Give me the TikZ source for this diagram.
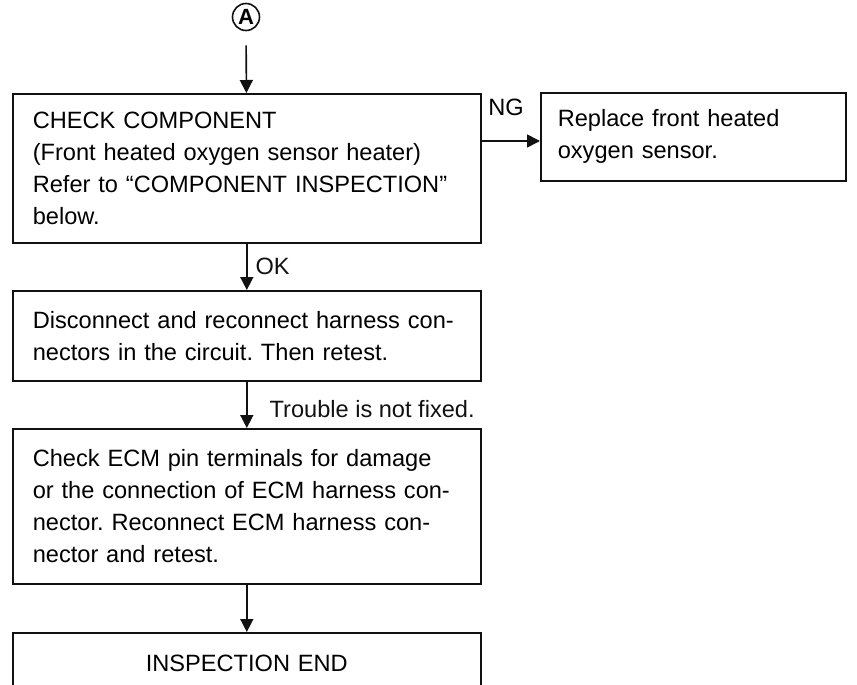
\documentclass[tikz,border=0pt]{standalone}
\usepackage{fontspec}
\setmainfont{Liberation Sans}
\usepackage{tikz}
\usetikzlibrary{positioning, arrows.meta}
\definecolor{fInk}{HTML}{111111}
\frenchspacing

\begin{document}
\begin{tikzpicture}[x=0.5pt, y=-0.5pt, >={Triangle[length=6.5pt,width=6.5pt]},
          stepbox/.style={draw=fInk, line width=0.8pt, anchor=north west, align=left,
            inner xsep=10pt, font=\fontsize{11.8}{16}\selectfont},
          flow/.style={->, line width=0.8pt, fInk},
          lbl/.style={font=\fontsize{11.8}{14}\selectfont, inner sep=1pt}]
        \clip (0,0) rectangle (857,685);
        \node[draw=fInk, circle, line width=0.8pt, minimum size=13.5pt, inner sep=0pt,
          font=\fontsize{11}{11}\selectfont\bfseries] (conA) at (246,17) {A};
        \node[stepbox, text width=214pt, minimum height=74.5pt] (chk) at (12,93)
          {CHECK COMPONENT\\(Front heated oxygen sensor heater)\\Refer to ``COMPONENT INSPECTION''\\below.};
        \node[stepbox, text width=135.5pt, minimum height=44pt, inner xsep=8.5pt] (repl) at (540,92)
          {Replace front heated\\oxygen sensor.};
        \node[stepbox, text width=214pt, minimum height=45pt] (recon) at (12,290)
          {Disconnect and reconnect harness con-\\nectors in the circuit. Then retest.};
        \node[stepbox, text width=214pt, minimum height=77.5pt] (ecm) at (12,428)
          {Check ECM pin terminals for damage\\or the connection of ECM harness con-\\nector. Reconnect ECM harness con-\\nector and retest.};
        \node[stepbox, align=center, text width=214pt, minimum height=31pt] (fin) at (12,632)
          {INSPECTION END};
        \coordinate (ngy) at (0,141);
        \node[lbl] (nglbl) at (506,107) {NG};
        \draw[flow, shorten <=7pt] (conA) -- (chk);
        \draw[flow] (chk.east |- ngy) -- (repl.west |- ngy);
        \draw[flow] (chk) -- node[lbl, right=3pt] {OK} (recon);
        \draw[flow] (recon) -- node[lbl, right=10pt, yshift=-2pt] {Trouble is not fixed.} (ecm);
        \draw[flow] (ecm) -- (fin);
      \end{tikzpicture}
\end{document}
